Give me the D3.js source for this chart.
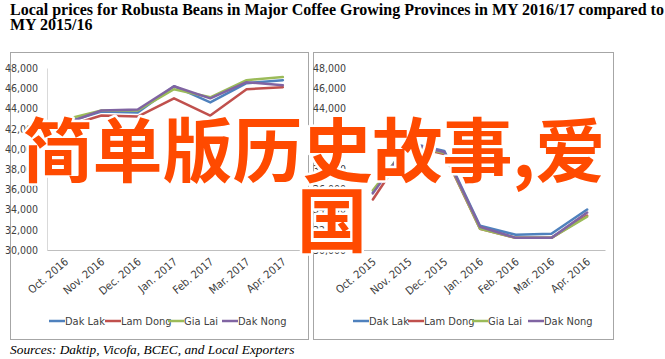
<!DOCTYPE html>
<html><head><meta charset="utf-8">
<script src="https://cdn.jsdelivr.net/npm/d3@7"></script>
<style>
html,body{margin:0;padding:0;background:#fff;}
svg{display:block;}
</style></head>
<body>
<svg id="c" width="665" height="359"></svg>
<script>
const titleLines = ["Local prices for Robusta Beans in Major Coffee Growing Provinces in MY 2016/17 compared to", "MY 2015/16"];
const sourceText = "Sources: Daktip, Vicofa, BCEC, and Local Exporters";
const overlayLines = ["简单版历史故事,爱", "国"];
const seriesNames = ["Dak Lak", "Lam Dong", "Gia Lai", "Dak Nong"];
const seriesColors = ["#4F81BD", "#C0504D", "#9BBB59", "#8064A2"];
const months1617 = ["Oct. 2016", "Nov. 2016", "Dec. 2016", "Jan. 2017", "Feb. 2017", "Mar. 2017", "Apr. 2017"];
const months1516 = ["Oct. 2015", "Nov. 2015", "Dec. 2015", "Jan. 2016", "Feb. 2016", "Mar. 2016", "Apr. 2016"];
const yTicks = [30000, 32000, 34000, 36000, 38000, 40000, 42000, 44000, 46000, 48000];
// 2016/17
const dakLak1617  = [42600, 43700, 43600, 46200, 44600, 46500, 46800];
const lamDong1617 = [42200, 43300, 43200, 45000, 43300, 45900, 46100];
const giaLai1617  = [42900, 43800, 43800, 45900, 45100, 46800, 47100];
const dakNong1617 = [42500, 43800, 43900, 46200, 45000, 46600, 46300];
// 2015/16
const dakLak1516  = [35700, 40600, 39800, 32400, 31500, 31600, 34000];
const lamDong1516 = [35000, 40300, 39500, 32100, 31200, 31200, 33400];
const giaLai1516  = [35900, 40400, 39600, 32100, 31200, 31200, 33300];
const dakNong1516 = [35600, 40500, 39700, 32300, 31200, 31200, 33700];

const svg = d3.select("#c");
const narrow = "'Liberation Sans Narrow','DejaVu Sans Condensed','Arial Narrow',sans-serif";

// title
svg.append("g").selectAll("text").data(titleLines).join("text")
  .attr("x", 10).attr("y", (d,i) => 15 + i*14.5)
  .attr("font-family", "'Liberation Serif','Times New Roman',serif")
  .attr("font-weight", "bold").attr("font-size", 16).attr("fill", "#000")
  .text(d => d);

function panel(x0, x1, plotL, plotR, months, seriesData, showYAxisLine) {
  const g = svg.append("g");
  g.append("rect").attr("x", x0 + 0.5).attr("y", 52.5).attr("width", x1 - x0).attr("height", 287)
    .attr("fill", "#fff").attr("stroke", "#a6a6a6").attr("stroke-width", 1);
  const x = d3.scaleBand().domain(months).range([plotL, plotR]);
  const y = d3.scaleLinear().domain([30000, 48000]).range([250, 68]);

  // y axis
  const ya = g.append("g").attr("transform", `translate(${plotL},0)`)
    .call(d3.axisLeft(y).tickValues(yTicks).tickSize(0).tickPadding(9).tickFormat(d3.format(",")));
  ya.select(".domain").attr("stroke", showYAxisLine ? "#d9d9d9" : "none");
  ya.selectAll("text").attr("font-family", narrow).attr("font-size", 10.5).attr("fill", "#404040");

  // x axis
  const xa = g.append("g").attr("transform", `translate(0,${y(30000)})`)
    .call(d3.axisBottom(x).tickSize(0).tickPadding(0));
  xa.select(".domain").attr("stroke", "#bfbfbf");
  xa.selectAll("text").attr("font-family", narrow).attr("font-size", 11).attr("fill", "#404040")
    .attr("text-anchor", "end").attr("dy", 0).attr("y", 0)
    .attr("transform", "translate(4,13) rotate(-40)");

  const line = d3.line().x((d,i) => x(months[i]) + x.bandwidth()/2).y(d => y(d));
  g.append("g").selectAll("path").data(seriesData).join("path")
    .attr("d", d => line(d)).attr("fill", "none")
    .attr("stroke", (d,i) => seriesColors[i]).attr("stroke-width", 2.5)
    .attr("stroke-linejoin", "round").attr("stroke-linecap", "round");
  return g;
}

const left = panel(10, 308, 47, 301, months1617, [dakLak1617, lamDong1617, giaLai1617, dakNong1617], true);
const right = panel(313, 613, 355, 605, months1516, [dakLak1516, lamDong1516, giaLai1516, dakNong1516], false);

function legend(g, starts) {
  const lg = g.append("g");
  seriesNames.forEach((n, i) => {
    lg.append("line").attr("x1", starts[i]).attr("x2", starts[i] + 16).attr("y1", 321).attr("y2", 321)
      .attr("stroke", seriesColors[i]).attr("stroke-width", 2.5);
    lg.append("text").attr("x", starts[i] + 16).attr("y", 321).attr("dy", "0.35em")
      .attr("font-family", narrow).attr("font-size", 11).attr("fill", "#404040").text(n);
  });
}
legend(left, [49, 105, 168, 222]);
legend(right, [353, 408, 472, 528]);

// source
svg.append("text").attr("x", 10).attr("y", 354)
  .attr("font-family", "'Liberation Serif','Times New Roman',serif")
  .attr("font-style", "italic").attr("font-size", 13.4).attr("fill", "#000").text(sourceText);

// overlay
const ov = svg.append("g").attr("font-family", "'Noto Sans CJK SC','Noto Sans CJK JP',sans-serif")
  .attr("font-weight", "bold").attr("font-size", 70).attr("text-anchor", "middle");
ov.selectAll("text").data(overlayLines).join("text")
  .attr("x", (d,i) => i === 0 ? 314 : 332).attr("y", (d,i) => 177 + i*70)
  .attr("fill", "#FF4A00").attr("stroke", "#fff").attr("stroke-width", 5)
  .attr("paint-order", "stroke").attr("stroke-linejoin", "round")
  .text(d => d);
</script>
</body></html>
